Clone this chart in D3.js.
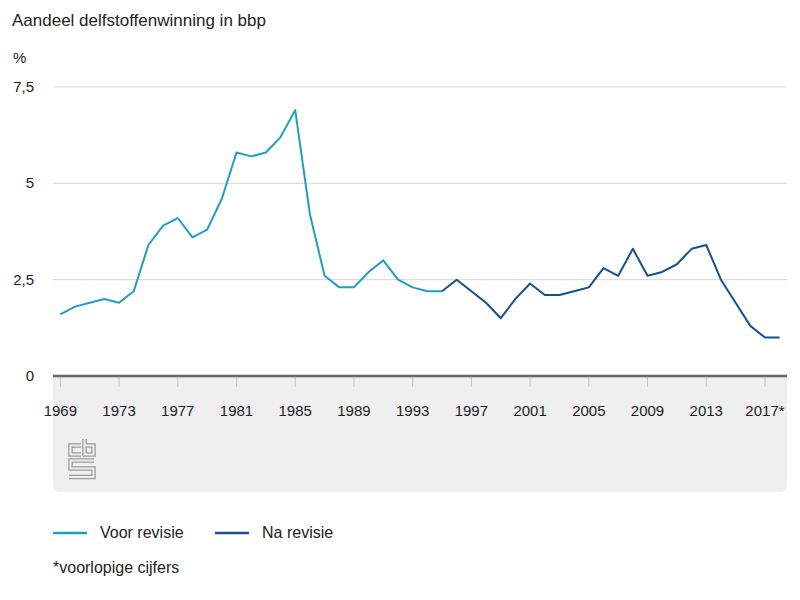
<!DOCTYPE html>
<html>
<head>
<meta charset="utf-8">
<script src="https://cdn.jsdelivr.net/npm/d3@7"></script>
<style>
  body { margin: 0; background: #fff; }
  text { font-family: "Liberation Sans", Arial, sans-serif; fill: #222; }
</style>
</head>
<body>
<div id="chart"></div>
<script>
// data
var years = d3.range(1969, 2019);
var voorYears = d3.range(1969, 1996);
var voorValues = [1.6, 1.8, 1.9, 2.0, 1.9, 2.2, 3.4, 3.9, 4.1, 3.6,
                  3.8, 4.6, 5.8, 5.7, 5.8, 6.2, 6.9, 4.2, 2.6, 2.3,
                  2.3, 2.7, 3.0, 2.5, 2.3, 2.2, 2.2];
var naYears = d3.range(1995, 2019);
var naValues = [2.2, 2.5, 2.2, 1.9, 1.5, 2.0, 2.4, 2.1, 2.1, 2.2,
                2.3, 2.8, 2.6, 3.3, 2.6, 2.7, 2.9, 3.3, 3.4, 2.5,
                1.9, 1.3, 1.0, 1.0];
var yTicks = [0, 2.5, 5, 7.5];
var xTickYears = d3.range(1969, 2019, 4);
var xTickLabel = function(yr) { return yr === 2017 ? "2017*" : String(yr); };
var seriesNames = ["Voor revisie", "Na revisie"];
var colors = ["#1e9fc2", "#15508f"];

(function() {
  var width = 800, height = 600;
  var left = 53, right = 787, plotTop = 87, zeroY = 376;

  var svg = d3.select("#chart").append("svg")
    .attr("width", width)
    .attr("height", height);

  var x = d3.scalePoint().domain(years).range([left, right]).padding(0.5);
  var y = d3.scaleLinear().domain([0, 7.5]).range([zeroY, plotTop]);
  var fmt = function(v) { return String(v).replace(".", ","); };

  // titles
  svg.append("text").attr("x", 12).attr("y", 26)
    .style("font-size", "17px").text("Aandeel delfstoffenwinning in bbp");
  svg.append("text").attr("x", 13).attr("y", 63)
    .style("font-size", "15px").text("%");

  // grey panel under axis
  var pb = 492, r = 7;
  svg.append("path")
    .attr("d", "M" + left + "," + zeroY + "H" + right + "V" + (pb - r) +
      "Q" + right + "," + pb + " " + (right - r) + "," + pb +
      "H" + (left + r) + "Q" + left + "," + pb + " " + left + "," + (pb - r) + "Z")
    .attr("fill", "#efefef");

  // gridlines + y labels
  svg.selectAll(".grid").data(yTicks.filter(function(d) { return d > 0; }))
    .enter().append("line")
    .attr("x1", left).attr("x2", right)
    .attr("y1", function(d) { return y(d); }).attr("y2", function(d) { return y(d); })
    .attr("stroke", "#d6d6d6").attr("stroke-width", 1);

  svg.selectAll(".ylab").data(yTicks).enter().append("text")
    .attr("x", 34).attr("y", function(d) { return y(d) + 5; })
    .attr("text-anchor", "end")
    .style("font-size", "15px")
    .text(fmt);

  // x ticks
  svg.selectAll(".tick").data(xTickYears).enter().append("line")
    .attr("x1", function(d) { return x(d); }).attr("x2", function(d) { return x(d); })
    .attr("y1", zeroY).attr("y2", zeroY + 11)
    .attr("stroke", "#c8c8c8").attr("stroke-width", 1);

  svg.selectAll(".xlab").data(xTickYears).enter().append("text")
    .attr("x", function(d) { return x(d); }).attr("y", 416)
    .attr("text-anchor", "middle")
    .style("font-size", "15px")
    .text(xTickLabel);

  // zero axis line
  svg.append("line")
    .attr("x1", left).attr("x2", right).attr("y1", zeroY).attr("y2", zeroY)
    .attr("stroke", "#666").attr("stroke-width", 2.5);

  // lines
  var line = d3.line()
    .x(function(d) { return x(d[0]); })
    .y(function(d) { return y(d[1]); });

  svg.append("path")
    .datum(d3.zip(voorYears, voorValues))
    .attr("d", line).attr("fill", "none")
    .attr("stroke", colors[0]).attr("stroke-width", 2)
    .attr("stroke-linejoin", "round");

  svg.append("path")
    .datum(d3.zip(naYears, naValues))
    .attr("d", line).attr("fill", "none")
    .attr("stroke", colors[1]).attr("stroke-width", 2)
    .attr("stroke-linejoin", "round");

  // cbs logo (outlined strokes)
  var logo = svg.append("g").attr("transform", "translate(69,439)");
  var logoPaths = [
    "M12,6.5H1.5V15.5H12",
    "M15.5,0V15.5H24.5V6.5H15.5",
    "M25,21.5H1.5V29.5H24.5V38H0"
  ];
  logoPaths.forEach(function(p) {
    logo.append("path").attr("d", p).attr("fill", "none")
      .attr("stroke", "#9a9a9a").attr("stroke-width", 4.5);
  });
  logoPaths.forEach(function(p) {
    logo.append("path").attr("d", p).attr("fill", "none")
      .attr("stroke", "#efefef").attr("stroke-width", 2);
  });

  // legend
  var legendX = [53, 215];
  seriesNames.forEach(function(name, i) {
    svg.append("line")
      .attr("x1", legendX[i]).attr("x2", legendX[i] + 34)
      .attr("y1", 533).attr("y2", 533)
      .attr("stroke", colors[i]).attr("stroke-width", 2.5);
    svg.append("text")
      .attr("x", legendX[i] + 47).attr("y", 538)
      .style("font-size", "16px")
      .text(name);
  });

  svg.append("text").attr("x", 53).attr("y", 573)
    .style("font-size", "16px").text("*voorlopige cijfers");
})();
</script>
</body>
</html>
